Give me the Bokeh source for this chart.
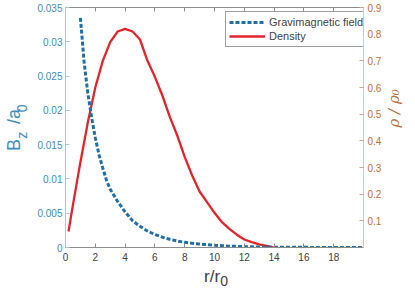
from math import pi
from bokeh.plotting import figure
from bokeh.models import Range1d, LinearAxis, FixedTicker, Legend, LegendItem
from bokeh.embed import file_html
from bokeh.resources import INLINE

# ---- data ----
r_field = [1.0, 1.25, 1.5, 1.75, 2.0, 2.25, 2.5, 2.75, 3.0, 3.5, 4.0, 4.5, 5.0, 5.5,
           6.0, 6.5, 7.0, 7.5, 8.0, 9.0, 10.0, 11.0, 12.0, 13.0, 14.0, 16.0, 18.0, 20.0]
bz = [0.0335, 0.0270, 0.0225, 0.0190, 0.0160, 0.0135, 0.0116, 0.0098, 0.0085, 0.0067,
      0.0052, 0.0039, 0.0031, 0.0024, 0.0019, 0.0015, 0.0012, 0.00095, 0.00075, 0.0005,
      0.00032, 0.0002, 0.00013, 0.00008, 0.00005, 0.00002, 0.00001, 0.0]
r_dens = [0.2, 0.5, 1.0, 1.5, 2.0, 2.5, 3.0, 3.5, 4.0, 4.5, 5.0, 5.5, 6.0, 6.5, 7.0,
          7.5, 8.0, 8.5, 9.0, 9.5, 10.0, 10.5, 11.0, 11.5, 12.0, 12.5, 13.0, 13.5, 14.0]
rho = [0.06, 0.16, 0.32, 0.47, 0.60, 0.70, 0.77, 0.81, 0.82, 0.81, 0.78, 0.70, 0.64,
       0.57, 0.49, 0.42, 0.34, 0.27, 0.21, 0.17, 0.13, 0.095, 0.07, 0.048, 0.03, 0.02,
       0.012, 0.006, 0.0]

x_ticks = [0, 2, 4, 6, 8, 10, 12, 14, 16, 18]
left_ticks = [0, 0.005, 0.01, 0.015, 0.02, 0.025, 0.03, 0.035]
left_labels = ["0", "0.005", "0.01", "0.015", "0.02", "0.025", "0.03", "0.035"]
right_ticks = [0.1, 0.2, 0.3, 0.4, 0.5, 0.6, 0.7, 0.8, 0.9]

NB = "\u00a0"
x_title_main = "r/r" + NB                         # r/r_0, main characters
x_title_sub = NB * 5 + "0"                        # r/r_0, subscript
y_title_main = "B" + NB * 3 + "/a" + NB          # B_z/a_0, main characters
y_title_sub = NB * 3 + "z" + NB * 5 + "0"        # B_z/a_0, subscripts
y2_title = "\u03c1 / \u03c1\u2080" + NB * 3

FONT = "Liberation Sans"
BLUE = "#1f6fa8"
RED = "#e3242b"
LEFT_TXT = "#3f8cbf"
RIGHT_TXT = "#c0703c"
GRAY = "#8c8c8c"
DARK = "#404040"

p = figure(width=415, height=295, x_range=Range1d(0, 20), y_range=Range1d(0, 0.035),
           output_backend="svg", toolbar_location=None,
           min_border_left=57, min_border_right=49, min_border_top=7, min_border_bottom=48)
p.extra_y_ranges = {"rho": Range1d(0, 0.9)}
p.xgrid.visible = False
p.ygrid.visible = False
p.outline_line_color = GRAY
p.background_fill_color = "white"
p.border_fill_color = "white"

# bottom axis
xa = p.xaxis[0]
xa.ticker = FixedTicker(ticks=x_ticks)
xa.major_tick_in = 4
xa.major_tick_out = 0
xa.minor_tick_line_color = None
xa.axis_line_color = GRAY
xa.major_tick_line_color = GRAY
xa.major_label_text_font = FONT
xa.major_label_text_font_size = "10px"
xa.major_label_text_color = DARK
xa.major_label_standoff = 5
xa.axis_label = x_title_main
xa.axis_label_text_font = FONT
xa.axis_label_text_font_size = "17px"
xa.axis_label_text_font_style = "normal"
xa.axis_label_text_color = DARK
xa.axis_label_standoff = 3

# outer bottom axis carrying the subscript of the x title
xa2 = LinearAxis(ticker=FixedTicker(ticks=[]))
xa2.axis_line_color = None
xa2.major_tick_line_color = None
xa2.minor_tick_line_color = None
xa2.axis_label = x_title_sub
xa2.axis_label_text_font = FONT
xa2.axis_label_text_font_size = "14px"
xa2.axis_label_text_font_style = "normal"
xa2.axis_label_text_color = DARK
xa2.axis_label_standoff = -16
p.add_layout(xa2, "below")

# left axis (ticks, tick labels, subscripts of the title)
ya = p.yaxis[0]
ya.ticker = FixedTicker(ticks=left_ticks)
ya.major_label_overrides = {t: s for t, s in zip(left_ticks, left_labels)}
ya.major_tick_in = 4
ya.major_tick_out = 0
ya.minor_tick_line_color = None
ya.axis_line_color = "#a9c9d8"
ya.major_tick_line_color = "#a9c9d8"
ya.major_label_text_font = FONT
ya.major_label_text_font_size = "10px"
ya.major_label_text_color = LEFT_TXT
ya.major_label_standoff = 3
ya.axis_label = y_title_sub
ya.axis_label_text_font = FONT
ya.axis_label_text_font_size = "14px"
ya.axis_label_text_font_style = "normal"
ya.axis_label_text_color = LEFT_TXT
ya.axis_label_standoff = 4

# outer left axis carrying the main characters of the title
ya2 = LinearAxis(ticker=FixedTicker(ticks=[]))
ya2.axis_line_color = None
ya2.major_tick_line_color = None
ya2.minor_tick_line_color = None
ya2.axis_label = y_title_main
ya2.axis_label_text_font = FONT
ya2.axis_label_text_font_size = "18px"
ya2.axis_label_text_font_style = "normal"
ya2.axis_label_text_color = LEFT_TXT
ya2.axis_label_standoff = -12
p.add_layout(ya2, "left")

# right axis
ra = LinearAxis(y_range_name="rho", ticker=FixedTicker(ticks=right_ticks))
ra.major_tick_in = 4
ra.major_tick_out = 0
ra.minor_tick_line_color = None
ra.axis_line_color = "#e4c6ae"
ra.major_tick_line_color = "#d9a27a"
ra.major_label_text_font = FONT
ra.major_label_text_font_size = "10px"
ra.major_label_text_color = RIGHT_TXT
ra.major_label_standoff = 4
ra.axis_label = y2_title
ra.axis_label_text_font = "DejaVu Serif"
ra.axis_label_text_font_size = "15px"
ra.axis_label_text_font_style = "italic"
ra.axis_label_text_color = RIGHT_TXT
ra.axis_label_standoff = 10
ra.axis_label_orientation = pi / 2
p.add_layout(ra, "right")

# top axis (ticks only)
ta = LinearAxis(ticker=FixedTicker(ticks=x_ticks))
ta.major_tick_in = 4
ta.major_tick_out = 0
ta.minor_tick_line_color = None
ta.axis_line_color = GRAY
ta.major_tick_line_color = GRAY
ta.major_label_text_font = FONT
ta.major_label_text_font_size = "1px"
ta.major_label_text_alpha = 0
ta.major_label_standoff = 0
p.add_layout(ta, "above")

rl = p.line(r_dens, rho, y_range_name="rho", line_color=RED, line_width=2.3)
bl = p.line(r_field, bz, line_color=BLUE, line_width=3, line_dash="4 2")

legend = Legend(items=[LegendItem(label="Gravimagnetic field", renderers=[bl]),
                       LegendItem(label="Density", renderers=[rl])],
                location=(160, 200))
legend.label_text_font = FONT
legend.label_text_font_size = "11px"
legend.glyph_width = 36
legend.glyph_height = 14
legend.label_height = 14
legend.label_standoff = 4
legend.padding = 3
legend.spacing = 0
legend.margin = 0
legend.border_line_color = DARK
legend.border_line_width = 1
p.add_layout(legend, "center")

open("out.html", "w").write(file_html(p, INLINE))
